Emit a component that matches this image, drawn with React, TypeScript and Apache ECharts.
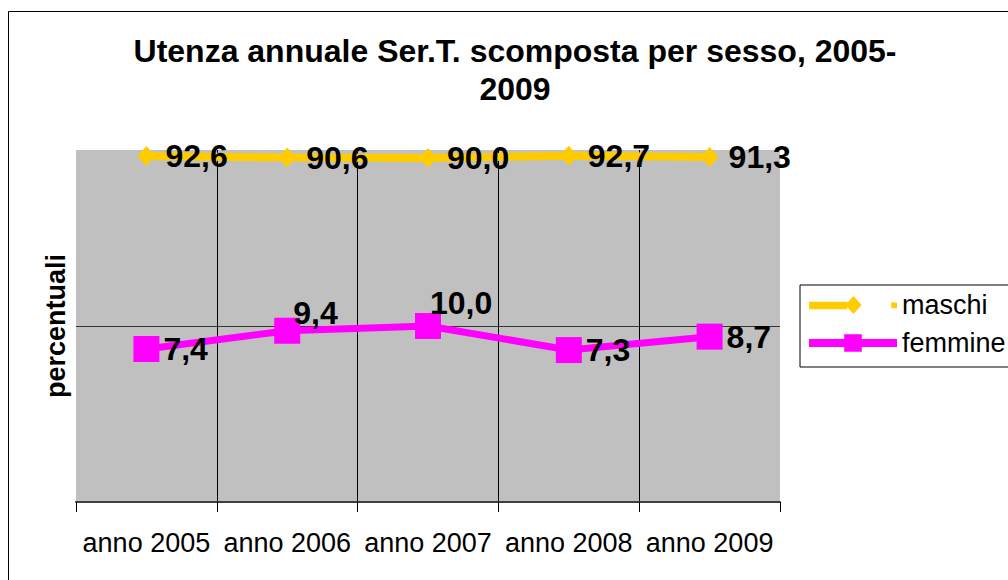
import React, { useEffect, useRef } from "react";
import * as echarts from "echarts";

const FONT = "'Liberation Sans', Arial, sans-serif";

const titleLines = ["Utenza annuale Ser.T. scomposta per sesso, 2005-", "2009"];
const yAxisName = "percentuali";
const categories = ["anno 2005", "anno 2006", "anno 2007", "anno 2008", "anno 2009"];
const seriesNames = ["maschi", "femmine"];
const maschi = [92.6, 90.6, 90.0, 92.7, 91.3];
const femmine = [7.4, 9.4, 10.0, 7.3, 8.7];
const yMin = 1;
const yMax = 100;

const YELLOW = "#FFCC00";
const MAGENTA = "#FF00FF";

// Legend icon for "maschi" (short line + diamond + small square as in the original)
const MASCHI_ICON =
  "path://M0 6L40 6L40 14L0 14Z M38 9.5L46.5 0L55 9.5L46.5 19Z M86 7L92 7L92 13L86 13Z";

const fmt = (v: number) => v.toFixed(1).replace(".", ",");

export default function App() {
  const ref = useRef<HTMLDivElement>(null);

  useEffect(() => {
    if (!ref.current) return;
    const chart = echarts.init(ref.current, null, { renderer: "svg" });

    const femmineLabelShift: Record<number, number[]> = { 1: [-11, -18], 2: [-15, -23] };

    const option: any = {
      animation: false,
      backgroundColor: "#ffffff",
      textStyle: { fontFamily: FONT },
      graphic: [
        {
          type: "rect",
          silent: true,
          z: -10,
          shape: { x: 8.5, y: 11.5, width: 1200, height: 800 },
          style: { fill: "none", stroke: "#000", lineWidth: 1 },
        },
      ],
      title: {
        text: titleLines.join("\n"),
        left: 515,
        top: 32,
        padding: 0,
        textAlign: "center",
        textStyle: {
          fontFamily: FONT,
          fontSize: 32,
          fontWeight: "bold",
          color: "#000",
          lineHeight: 38,
        },
      },
      grid: {
        left: 76,
        top: 150,
        width: 704,
        height: 352,
        show: true,
        backgroundColor: "#C0C0C0",
        borderWidth: 0,
      },
      legend: {
        orient: "vertical",
        left: 800,
        top: 285,
        padding: [5, 10, 9, 5],
        itemGap: 8,
        itemWidth: 88,
        itemHeight: 22,
        borderColor: "#000",
        borderWidth: 1,
        selectedMode: false,
        itemStyle: { borderWidth: 0 },
        textStyle: { fontFamily: FONT, fontSize: 27, color: "#000", lineHeight: 30 },
        data: [
          { name: seriesNames[0], icon: MASCHI_ICON },
          { name: seriesNames[1], lineStyle: { width: 8 } },
        ],
      },
      xAxis: {
        type: "category",
        data: categories,
        boundaryGap: true,
        axisLine: { show: true, lineStyle: { color: "#404040", width: 2 } },
        axisTick: { show: true, length: 10, lineStyle: { color: "#000", width: 1 } },
        axisLabel: {
          interval: 0,
          fontFamily: FONT,
          fontSize: 27,
          lineHeight: 27,
          color: "#000",
          margin: 27,
        },
        splitLine: {
          show: true,
          showMinLine: false,
          showMaxLine: false,
          lineStyle: { color: "#000", width: 1 },
        },
      },
      yAxis: {
        type: "log",
        logBase: 10,
        min: yMin,
        max: yMax,
        axisLine: { show: false },
        axisTick: { show: false },
        axisLabel: { show: false },
        splitLine: {
          show: true,
          showMinLine: false,
          showMaxLine: false,
          lineStyle: { color: "#333", width: 1 },
        },
        name: yAxisName,
        nameLocation: "middle",
        nameGap: 7,
        nameTextStyle: { fontFamily: FONT, fontSize: 27, fontWeight: "bold", color: "#000" },
      },
      series: [
        {
          name: seriesNames[0],
          type: "line",
          data: maschi,
          clip: false,
          symbol: "diamond",
          symbolSize: [18, 20],
          color: YELLOW,
          itemStyle: { color: YELLOW, borderWidth: 0 },
          lineStyle: { color: YELLOW, width: 8 },
          label: {
            show: true,
            position: "right",
            distance: 10,
            offset: [0, 0],
            fontFamily: FONT,
            fontSize: 32,
            fontWeight: "bold",
            color: "#000",
            formatter: (p: any) => fmt(Number(p.value)),
          },
          z: 2,
        },
        {
          name: seriesNames[1],
          type: "line",
          data: femmine.map((v, i) =>
            femmineLabelShift[i] ? { value: v, label: { offset: femmineLabelShift[i] } } : v
          ),
          clip: false,
          symbol: "rect",
          symbolSize: 26,
          color: MAGENTA,
          itemStyle: { color: MAGENTA, borderWidth: 0 },
          lineStyle: { color: MAGENTA, width: 7 },
          label: {
            show: true,
            position: "right",
            distance: 4,
            fontFamily: FONT,
            fontSize: 32,
            fontWeight: "bold",
            color: "#000",
            formatter: (p: any) => fmt(Number(p.value)),
          },
          z: 3,
        },
      ],
    };

    chart.setOption(option);
    return () => {
      chart.dispose();
    };
  }, []);

  return (
    <div
      ref={ref}
      style={{ position: "absolute", left: 0, top: 0, width: 1008, height: 580, background: "#fff" }}
    />
  );
}
